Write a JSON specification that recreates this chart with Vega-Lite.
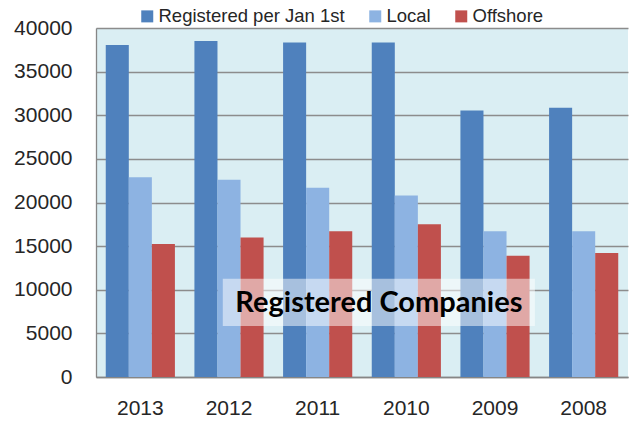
{
  "$schema": "https://vega.github.io/schema/vega-lite/v6.json",
  "width": 532,
  "height": 349,
  "autosize": {"type": "none"},
  "padding": {"left": 96, "top": 28, "right": 10, "bottom": 49},
  "background": "white",
  "config": {
    "view": {"stroke": null, "fill": "#DAEEF3"},
    "font": "Liberation Sans"
  },
  "layer": [
    {
      "data": {
        "values": [
          {"year": "2013", "series": "Registered per Jan 1st", "value": 38050},
          {"year": "2013", "series": "Local", "value": 22900},
          {"year": "2013", "series": "Offshore", "value": 15250},
          {"year": "2012", "series": "Registered per Jan 1st", "value": 38500},
          {"year": "2012", "series": "Local", "value": 22600},
          {"year": "2012", "series": "Offshore", "value": 16000},
          {"year": "2011", "series": "Registered per Jan 1st", "value": 38350},
          {"year": "2011", "series": "Local", "value": 21700},
          {"year": "2011", "series": "Offshore", "value": 16700},
          {"year": "2010", "series": "Registered per Jan 1st", "value": 38350},
          {"year": "2010", "series": "Local", "value": 20800},
          {"year": "2010", "series": "Offshore", "value": 17500},
          {"year": "2009", "series": "Registered per Jan 1st", "value": 30550},
          {"year": "2009", "series": "Local", "value": 16700},
          {"year": "2009", "series": "Offshore", "value": 13900},
          {"year": "2008", "series": "Registered per Jan 1st", "value": 30850},
          {"year": "2008", "series": "Local", "value": 16700},
          {"year": "2008", "series": "Offshore", "value": 14200}
        ]
      },
      "mark": {"type": "bar"},
      "encoding": {
        "x": {
          "field": "year",
          "type": "nominal",
          "sort": ["2013", "2012", "2011", "2010", "2009", "2008"],
          "scale": {"paddingInner": 0.22, "paddingOuter": 0.11},
          "axis": {
            "title": null,
            "labelAngle": 0,
            "labelFontSize": 21,
            "labelColor": "#262626",
            "labelPadding": 20,
            "ticks": false,
            "domainColor": "#868686",
            "domainWidth": 1.3
          }
        },
        "xOffset": {
          "field": "series",
          "type": "nominal",
          "sort": ["Registered per Jan 1st", "Local", "Offshore"]
        },
        "y": {
          "field": "value",
          "type": "quantitative",
          "scale": {"domain": [0, 40000], "nice": false},
          "axis": {
            "title": null,
            "format": "d",
            "values": [0, 5000, 10000, 15000, 20000, 25000, 30000, 35000, 40000],
            "labelFontSize": 21,
            "labelColor": "#262626",
            "labelPadding": 24,
            "ticks": false,
            "domainColor": "#868686",
            "domainWidth": 1.3,
            "gridColor": "#8c8c8c",
            "gridWidth": 1.3
          }
        },
        "color": {
          "field": "series",
          "type": "nominal",
          "sort": ["Registered per Jan 1st", "Local", "Offshore"],
          "scale": {
            "domain": ["Registered per Jan 1st", "Local", "Offshore"],
            "range": ["#4F81BD", "#8DB3E2", "#C0504D"]
          },
          "legend": {
            "title": null,
            "orient": "none",
            "direction": "horizontal",
            "legendX": 42,
            "legendY": -21,
            "padding": 0,
            "symbolType": "square",
            "symbolSize": 144,
            "symbolStrokeWidth": 0,
            "labelFontSize": 18.5,
            "labelLimit": 400,
            "labelColor": "#262626",
            "labelOffset": 2,
            "columnPadding": 21
          }
        }
      }
    },
    {
      "data": {"values": [{"label": "Registered Companies"}]},
      "mark": {"type": "rect", "fill": "white", "opacity": 0.5},
      "encoding": {
        "x": {"datum": 1.43, "type": "quantitative", "scale": {"domain": [0, 6], "nice": false}, "axis": null},
        "x2": {"datum": 4.95},
        "y": {"datum": 5850, "type": "quantitative", "scale": {"domain": [0, 40000], "nice": false}},
        "y2": {"datum": 11250}
      }
    },
    {
      "data": {"values": [{"label": "Registered Companies"}]},
      "mark": {"type": "text", "font": "Lato", "fontWeight": "bold", "fontSize": 29, "color": "black", "baseline": "alphabetic", "align": "center"},
      "encoding": {
        "x": {"datum": 3.19, "type": "quantitative", "scale": {"domain": [0, 6], "nice": false}, "axis": null},
        "y": {"datum": 7400, "type": "quantitative", "scale": {"domain": [0, 40000], "nice": false}},
        "text": {"field": "label"}
      }
    }
  ],
  "resolve": {"scale": {"x": "independent"}}
}
